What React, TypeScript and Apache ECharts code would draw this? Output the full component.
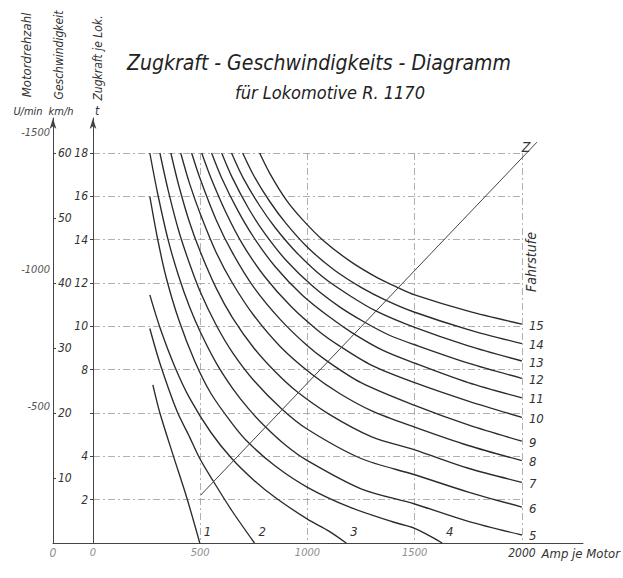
import React, { useEffect, useRef } from 'react';
import * as echarts from 'echarts';

const FONT = "'DejaVu Sans Condensed', 'Liberation Sans Narrow', 'DejaVu Sans', sans-serif";
const INK = '#2b2b2b';
const GRID = '#9c9c9c';

// Fahrstufe (notch) names
const stepNames = ['1', '2', '3', '4', '5', '6', '7', '8', '9', '10', '11', '12', '13', '14', '15'];

// [Amp je Motor, Zugkraft je Lok (t)]
const step1 = [[279, 7.3], [312, 6.0], [372, 4.1], [437, 2.1], [498, 0]];
const step2 = [[265, 9.9], [312, 8.3], [391, 6.1], [450, 4.9], [498, 3.9], [558, 2.9], [647, 1.5], [753, 0]];
const step3 = [[265, 11.45], [312, 9.95], [381, 8.15], [450, 6.7], [550, 5.1], [647, 3.9], [750, 2.9], [850, 2.1], [1000, 1.1], [1100, 0.55], [1181, 0]];
const step4 = [[265, 16], [300, 14.1], [340, 12.3], [400, 10.3], [474, 8.4], [550, 6.9], [650, 5.5], [721, 4.67], [850, 3.55], [1000, 2.57], [1200, 1.64], [1400, 0.97], [1500, 0.68], [1570, 0.33], [1628, 0]];
const step5 = [[265, 18], [300, 16.2], [350, 14.0], [400, 12.3], [450, 10.9], [500, 9.75], [575, 8.3], [650, 7.15], [725, 6.2], [800, 5.4], [900, 4.5], [1000, 3.8], [1250, 2.5], [1500, 1.8], [1750, 1.0], [2000, 0.37]];
const step6 = [[312, 18], [350, 16.3], [400, 14.4], [450, 12.9], [500, 11.6], [575, 10.05], [650, 8.8], [750, 7.5], [879, 6.2], [1000, 5.25], [1250, 3.9], [1500, 3.15], [1750, 2.35], [2000, 1.66]];
const step7 = [[363, 18], [400, 16.5], [450, 14.8], [500, 13.45], [575, 11.75], [650, 10.4], [750, 9.0], [850, 7.9], [949, 7.0], [1100, 5.95], [1300, 4.9], [1500, 4.3], [1750, 3.45], [2000, 2.8]];
const step8 = [[409, 18], [450, 16.6], [500, 15.2], [575, 13.4], [650, 12.0], [750, 10.5], [875, 9.05], [1019, 7.8], [1150, 6.9], [1300, 6.1], [1500, 5.35], [1750, 4.5], [2000, 3.8]];
const step9 = [[460, 18], [500, 16.8], [575, 14.9], [650, 13.4], [750, 11.8], [875, 10.3], [1000, 9.1], [1084, 8.45], [1250, 7.4], [1500, 6.35], [1750, 5.45], [2000, 4.7]];
const step10 = [[507, 18], [550, 16.85], [625, 15.15], [700, 13.75], [800, 12.3], [925, 10.9], [1050, 9.8], [1149, 9.1], [1300, 8.2], [1500, 7.4], [1750, 6.55], [2000, 5.8]];
const step11 = [[553, 18], [600, 16.85], [675, 15.35], [750, 14.1], [850, 12.75], [975, 11.45], [1100, 10.45], [1209, 9.7], [1350, 8.9], [1500, 8.3], [1750, 7.4], [2000, 6.7]];
const step12 = [[600, 18], [650, 16.85], [725, 15.45], [800, 14.3], [900, 13.05], [1025, 11.85], [1150, 10.9], [1265, 10.2], [1380, 9.6], [1500, 9.15], [1750, 8.3], [2000, 7.6]];
const step13 = [[646, 18], [700, 16.85], [775, 15.6], [850, 14.55], [950, 13.4], [1075, 12.25], [1200, 11.4], [1321, 10.7], [1500, 9.95], [1750, 9.1], [2000, 8.4]];
const step14 = [[698, 18], [750, 16.95], [825, 15.75], [900, 14.75], [1000, 13.65], [1125, 12.6], [1250, 11.8], [1367, 11.2], [1500, 10.65], [1750, 9.85], [2000, 9.2]];
const step15 = [[777, 18], [825, 17.05], [900, 15.85], [975, 14.95], [1075, 13.95], [1200, 13.0], [1325, 12.25], [1419, 11.8], [1500, 11.45], [1750, 10.7], [2000, 10.1]];

// Zugkraft line Z (runs past the 2000 A / 18 t frame)
const zLine = [[500, 2.2], [2065, 18.5]];

// axes
const ampMax = 2000;
const ampStep = 500;
const forceMax = 18;
const forceStep = 2;
const forceHiddenLabels = [0, 6];
const speedMax = 60;
const speedStep = 10;
const rpmTicks = [500, 1000, 1500];
const rpmAxisTop = 1554.5;
// the outer frame (left 53 .. 583, top 118) expressed in Amp / t of the main scale
const frameAmpMin = -186.05;
const frameAmpMax = 2279.07;
const frameForceMax = 19.615;

const steps = [step1, step2, step3, step4, step5, step6, step7, step8, step9, step10, step11, step12, step13, step14, step15];

const dashDot = [7, 3, 2, 3];

export default function App() {
  const ref = useRef<HTMLDivElement>(null);
  useEffect(() => {
    if (!ref.current) return;
    const chart = echarts.init(ref.current, null, { renderer: 'svg' });
    const curveSeries = steps.map((d, i) => ({
      type: 'line',
      name: stepNames[i],
      xAxisIndex: 0,
      yAxisIndex: 0,
      data: d,
      showSymbol: false,
      smooth: 0.3,
      silent: true,
      lineStyle: { color: INK, width: 1.35 },
      endLabel: {
        show: true,
        formatter: stepNames[i],
        distance: 6,
        offset: i < 4 ? [-2, -12] : [1, 1],
        color: '#333',
        fontSize: 13,
        fontStyle: 'italic',
        fontFamily: FONT,
      },
    }));
    const option: any = {
      animation: false,
      backgroundColor: '#ffffff',
      grid: [
        { left: 93, top: 153, width: 430, height: 390 },
        { left: 53, top: 118, width: 530, height: 425 },
        { left: 93, top: 118, width: 1, height: 425 },
      ],
      xAxis: [
        {
          type: 'value', gridIndex: 0, min: 0, max: ampMax, interval: ampStep,
          axisLine: { show: false },
          axisTick: { show: false },
          axisLabel: {
            margin: 4,
            formatter: (v: number) => (v === ampMax ? `{d|${v}}` : `{f|${v}}`),
            rich: {
              f: { color: '#8e8e8e', fontSize: 11, fontStyle: 'italic', fontFamily: FONT },
              d: { color: '#333', fontSize: 12, fontStyle: 'italic', fontFamily: FONT },
            },
          },
          splitLine: { show: true, lineStyle: { color: GRID, width: 0.8, type: dashDot } },
          name: 'Amp je Motor',
          nameLocation: 'end',
          nameGap: 10,
          nameTextStyle: { color: '#333', fontSize: 13, fontStyle: 'italic', fontFamily: FONT, verticalAlign: 'top', padding: [4, 0, 0, 0] },
        },
        {
          type: 'value', gridIndex: 1, min: 0, max: 1, interval: 1,
          axisLine: { show: true, lineStyle: { color: '#444', width: 1 } },
          axisTick: { show: false },
          axisLabel: { margin: 4, formatter: (v: number) => (v === 0 ? '0' : ''), color: '#8e8e8e', fontSize: 12, fontStyle: 'italic', fontFamily: FONT },
          splitLine: { show: false },
        },
        { type: 'value', gridIndex: 2, min: 0, max: 1, show: false },
        { type: 'value', gridIndex: 1, min: frameAmpMin, max: frameAmpMax, show: false },
      ],
      yAxis: [
        {
          type: 'value', gridIndex: 0, min: 0, max: forceMax, interval: forceStep,
          axisLine: { show: false },
          axisTick: { show: true, length: 3, lineStyle: { color: '#444' } },
          axisLabel: {
            margin: 5,
            formatter: (v: number) => (forceHiddenLabels.includes(v) ? '' : String(v)),
            color: '#333', fontSize: 12, fontStyle: 'italic', fontFamily: FONT,
          },
          splitLine: { show: true, lineStyle: { color: GRID, width: 0.8, type: dashDot } },
        },
        {
          type: 'value', gridIndex: 0, min: 0, max: speedMax, interval: speedStep,
          position: 'left', offset: 40,
          axisLine: { show: false },
          axisTick: { show: true, inside: true, length: 3, lineStyle: { color: '#444' } },
          axisLabel: {
            inside: true, margin: 5, showMinLabel: false,
            formatter: (v: number) => (v === 0 ? '' : String(v)),
            color: '#333', fontSize: 12, fontStyle: 'italic', fontFamily: FONT,
          },
          splitLine: { show: false },
        },
        {
          type: 'value', gridIndex: 1, min: 0, max: rpmAxisTop, interval: 500,
          axisLine: { show: true, symbol: ['none', 'arrow'], symbolSize: [5, 11], lineStyle: { color: '#444', width: 1 } },
          axisTick: { show: false },
          axisLabel: {
            margin: 3,
            formatter: (v: number) => (rpmTicks.includes(v) ? `-${v}` : ''),
            color: '#555', fontSize: 11, fontStyle: 'italic', fontFamily: FONT,
          },
          splitLine: { show: false },
        },
        {
          type: 'value', gridIndex: 2, min: 0, max: 1,
          axisLine: { show: true, symbol: ['none', 'arrow'], symbolSize: [5, 11], lineStyle: { color: '#444', width: 1 } },
          axisTick: { show: false },
          axisLabel: { show: false },
          splitLine: { show: false },
        },
        { type: 'value', gridIndex: 1, min: 0, max: frameForceMax, show: false },
      ],
      series: [
        ...curveSeries,
        {
          type: 'line',
          name: 'Z',
          xAxisIndex: 3,
          yAxisIndex: 4,
          data: zLine,
          showSymbol: false,
          clip: false,
          silent: true,
          lineStyle: { color: '#444', width: 1 },
        },
      ],
      graphic: [
        {
          type: 'text', x: 526, y: 147,
          style: { text: 'Z', fontSize: 14, fontStyle: 'italic', fontFamily: FONT, fill: '#333', align: 'center', verticalAlign: 'middle' },
        },
        {
          type: 'text', x: 319, y: 63,
          style: { text: 'Zugkraft - Geschwindigkeits - Diagramm', fontSize: 21, fontStyle: 'italic', fontFamily: FONT, fill: '#222', align: 'center', verticalAlign: 'middle' },
        },
        {
          type: 'text', x: 330, y: 92,
          style: { text: 'für Lokomotive R. 1170', fontSize: 18, fontStyle: 'italic', fontFamily: FONT, fill: '#222', align: 'center', verticalAlign: 'middle' },
        },
        {
          type: 'text', x: 26, y: 55, rotation: Math.PI / 2,
          style: { text: 'Motordrehzahl', fontSize: 13, fontStyle: 'italic', fontFamily: FONT, fill: '#333', align: 'center', verticalAlign: 'middle' },
        },
        {
          type: 'text', x: 59, y: 55, rotation: Math.PI / 2,
          style: { text: 'Geschwindigkeit', fontSize: 12, fontStyle: 'italic', fontFamily: FONT, fill: '#333', align: 'center', verticalAlign: 'middle' },
        },
        {
          type: 'text', x: 98, y: 58, rotation: Math.PI / 2,
          style: { text: 'Zugkraft je Lok.', fontSize: 12, fontStyle: 'italic', fontFamily: FONT, fill: '#333', align: 'center', verticalAlign: 'middle' },
        },
        {
          type: 'text', x: 28, y: 111,
          style: { text: 'U/min', fontSize: 11, fontStyle: 'italic', fontFamily: FONT, fill: '#333', align: 'center', verticalAlign: 'middle' },
        },
        {
          type: 'text', x: 61, y: 111,
          style: { text: 'km/h', fontSize: 11, fontStyle: 'italic', fontFamily: FONT, fill: '#333', align: 'center', verticalAlign: 'middle' },
        },
        {
          type: 'text', x: 97, y: 111,
          style: { text: 't', fontSize: 12, fontStyle: 'italic', fontFamily: FONT, fill: '#333', align: 'center', verticalAlign: 'middle' },
        },
        {
          type: 'text', x: 531, y: 262, rotation: Math.PI / 2,
          style: { text: 'Fahrstufe', fontSize: 14, fontStyle: 'italic', fontFamily: FONT, fill: '#333', align: 'center', verticalAlign: 'middle' },
        },
      ],
    };
    chart.setOption(option);
    return () => chart.dispose();
  }, []);
  return <div ref={ref} style={{ position: 'fixed', left: 0, top: 0, width: 623, height: 578, background: '#fff' }} />;
}
